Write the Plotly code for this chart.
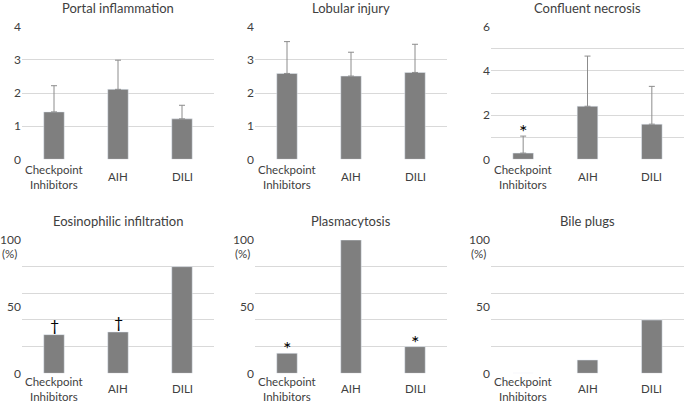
import plotly.graph_objects as go

# ---------------- data ----------------
categories = ["Checkpoint Inhibitors", "AIH", "DILI"]
category_labels = ["Checkpoint<br>Inhibitors", "AIH", "DILI"]

titles = ["Portal inflammation", "Lobular injury", "Confluent necrosis",
          "Eosinophilic infiltration", "Plasmacytosis", "Bile plugs"]

portal_mean = [1.43, 2.11, 1.22]
portal_sd = [0.79, 0.88, 0.41]
lobular_mean = [2.59, 2.51, 2.62]
lobular_sd = [0.96, 0.72, 0.85]
necrosis_mean = [0.28, 2.40, 1.59]
necrosis_sd = [0.77, 2.27, 1.71]
eosinophil_pct = [29, 31, 80]
plasma_pct = [15, 100, 20]
bile_pct = [0, 10, 40]

portal_marks = ["", "", ""]
lobular_marks = ["", "", ""]
necrosis_marks = ["*", "", ""]
eosinophil_marks = ["\u2020", "\u2020", ""]
plasma_marks = ["*", "", "*"]
bile_marks = ["", "", ""]

score_ticks = [0, 1, 2, 3, 4]
necrosis_ticks = [0, 2, 4, 6]
necrosis_grid = [0, 1, 2, 3, 4, 5, 6]
pct_ticks = [0, 50, 100]
pct_grid = [0, 20, 40, 60, 80, 100]

# ---------------- style ----------------
W, H = 685, 403
BAR = "#7f7f7f"
GRID = "#d9d9d9"
TXT = "#404040"
FONT = "Lato"

col_px = [(22, 214), (255, 447), (491, 684)]
row_px = [(26.7, 159.3), (240, 373.3)]


def xdom(c):
    return [col_px[c][0] / W, col_px[c][1] / W]


def ydom(r):
    return [1 - row_px[r][1] / H, 1 - row_px[r][0] / H]


panels = [
    dict(vals=portal_mean, err=portal_sd, marks=portal_marks, rng=[0, 4],
         ticks=score_ticks, grid=score_ticks, pct=False),
    dict(vals=lobular_mean, err=lobular_sd, marks=lobular_marks, rng=[0, 4],
         ticks=score_ticks, grid=score_ticks, pct=False),
    dict(vals=necrosis_mean, err=necrosis_sd, marks=necrosis_marks, rng=[0, 6],
         ticks=necrosis_ticks, grid=necrosis_grid, pct=False),
    dict(vals=eosinophil_pct, err=None, marks=eosinophil_marks, rng=[0, 100],
         ticks=pct_ticks, grid=pct_grid, pct=True),
    dict(vals=plasma_pct, err=None, marks=plasma_marks, rng=[0, 100],
         ticks=pct_ticks, grid=pct_grid, pct=True),
    dict(vals=bile_pct, err=None, marks=bile_marks, rng=[0, 100],
         ticks=pct_ticks, grid=pct_grid, pct=True),
]

fig = go.Figure()
annotations = []
layout = {}

for i, p in enumerate(panels):
    r, c = divmod(i, 3)
    n = "" if i == 0 else str(i + 1)
    xa, ya = "x" + n, "y" + n
    trace = dict(x=categories, y=p["vals"], marker_color=BAR, width=0.32,
                 xaxis=xa, yaxis=ya, showlegend=False, hoverinfo="x+y")
    if p["err"] is not None:
        trace["error_y"] = dict(type="data", array=p["err"], symmetric=False,
                                arrayminus=[0] * len(p["err"]),
                                color="#8c8c8c", thickness=1, width=3)
    fig.add_trace(go.Bar(**trace))

    layout["xaxis" + n] = dict(domain=xdom(c), anchor=ya, showticklabels=False,
                               showgrid=False, zeroline=False, showline=False,
                               categoryorder="array", categoryarray=categories,
                               fixedrange=True, automargin=False)
    layout["yaxis" + n] = dict(domain=ydom(r), anchor=xa, range=p["rng"],
                               tickvals=p["ticks"], showgrid=False,
                               zeroline=False, showline=False,
                               tickfont=dict(family=FONT, size=12, color=TXT),
                               ticks="", ticklen=0, automargin=False,
                               minor=dict(tickvals=p["grid"], showgrid=True,
                                          gridcolor=GRID, gridwidth=1, ticks=""),
                               fixedrange=True)

    # category labels
    for cat, lab in zip(categories, category_labels):
        annotations.append(dict(x=cat, xref=xa, y=ydom(r)[0], yref="paper",
                                text=lab, showarrow=False, yanchor="middle",
                                yshift=-17.5 if r == 0 else -15.5,
                                xanchor="center",
                                font=dict(family=FONT, size=11.5, color=TXT)))
    # panel title
    annotations.append(dict(x=sum(xdom(c)) / 2, xref="paper",
                            y=1 - (8 if r == 0 else 220.5) / H, yref="paper",
                            text=titles[i], showarrow=False, yanchor="middle",
                            xanchor="center",
                            font=dict(family=FONT, size=13, color=TXT)))
    # (%) unit label
    if p["pct"]:
        annotations.append(dict(x=xdom(c)[0], xref="paper", y=100, yref=ya,
                                text="(%)", showarrow=False, xanchor="right",
                                yanchor="middle", xshift=-3, yshift=-14,
                                font=dict(family=FONT, size=11.5, color=TXT)))
    # significance marks
    for k, (cat, m) in enumerate(zip(categories, p["marks"])):
        if not m:
            continue
        top = p["vals"][k] + (p["err"][k] if p["err"] is not None else 0)
        is_star = m == "*"
        annotations.append(dict(x=cat, xref=xa, y=top, yref=ya, text=m,
                                showarrow=False, xanchor="center",
                                yanchor="middle",
                                yshift=5 if is_star else 10,
                                font=dict(family=FONT, size=20 if is_star else 16,
                                          color="#000000")))

fig.update_layout(**layout)
fig.update_layout(width=W, height=H, margin=dict(l=0, r=0, t=0, b=0, pad=0),
                  paper_bgcolor="white", plot_bgcolor="white",
                  annotations=annotations, bargap=0.68,
                  font=dict(family=FONT, color=TXT))

fig.write_html("out.html",
               config={"displayModeBar": False},
               post_script="document.body.style.margin='0';"
                           "document.body.style.overflow='hidden';")
